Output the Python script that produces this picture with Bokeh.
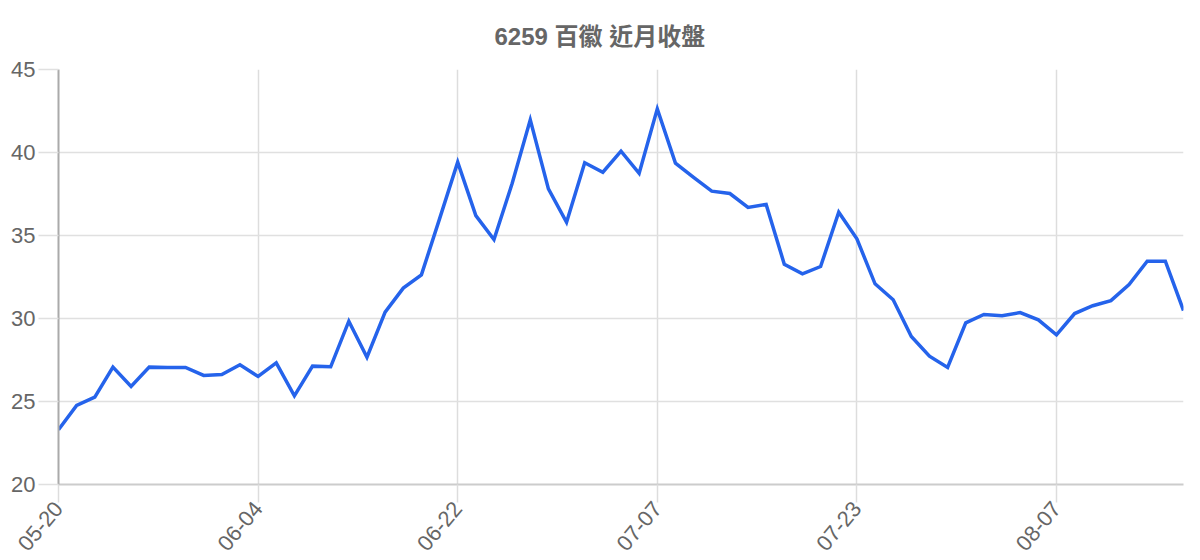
import math
from bokeh.plotting import figure
from bokeh.models import Range1d, FixedTicker, Title, ColumnDataSource
from bokeh.embed import file_html
from bokeh.resources import INLINE

title_text = "6259 百徽 近月收盤"

dates = [
    "05-20", "05-21", "05-22", "05-23", "05-24", "05-27", "05-28", "05-29", "05-30", "05-31",
    "06-03", "06-04", "06-05", "06-06", "06-07", "06-11", "06-12", "06-13", "06-14", "06-17",
    "06-18", "06-19", "06-22", "06-24", "06-25", "06-26", "06-27", "06-28", "07-01", "07-02",
    "07-03", "07-04", "07-05", "07-07", "07-08", "07-09", "07-10", "07-11", "07-12", "07-15",
    "07-16", "07-17", "07-18", "07-19", "07-23", "07-24", "07-25", "07-26", "07-29", "07-30",
    "07-31", "08-01", "08-02", "08-05", "08-06", "08-07", "08-08", "08-09", "08-12", "08-13",
    "08-14", "08-15", "08-16",
]

close = [
    23.30, 24.76, 25.26, 27.07, 25.90, 27.07, 27.05, 27.05, 26.57, 26.63,
    27.21, 26.51, 27.33, 25.34, 27.13, 27.09, 29.84, 27.67, 30.38, 31.83,
    32.63, 36.00, 39.42, 36.20, 34.76, 38.13, 41.97, 37.81, 35.80, 39.38,
    38.81, 40.08, 38.75, 42.63, 39.36, 38.50, 37.67, 37.53, 36.69, 36.87,
    33.27, 32.69, 33.13, 36.40, 34.80, 32.09, 31.13, 28.92, 27.73, 27.05,
    29.74, 30.24, 30.16, 30.36, 29.92, 29.02, 30.30, 30.77, 31.08, 32.05,
    33.45, 33.45, 30.48,
]

label_every = 11
y_ticks = [20, 25, 30, 35, 40, 45]

x_idx = list(range(len(close)))
src = ColumnDataSource(dict(x=x_idx, y=close, d=dates))

FONT = "'Liberation Sans', Arial, sans-serif"
CJK = "'Liberation Sans', 'Noto Sans CJK TC', sans-serif"

W, H = 1192, 560
BL, BR, BT, BB = 58, 9, 69, 76

p = figure(width=W, height=H, output_backend="svg", toolbar_location=None,
           x_range=Range1d(0, len(close) - 1), y_range=Range1d(min(y_ticks), max(y_ticks)),
           min_border_left=BL, min_border_right=BR, min_border_top=BT, min_border_bottom=BB,
           outline_line_color=None, background_fill_color="white", border_fill_color="white")

p.title = None
t = Title(text=title_text, align="left", offset=436, text_font=CJK, text_font_size="24px",
          text_font_style="bold", text_color="#666666", standoff=40, text_line_height=1.0)
p.add_layout(t, "above")

p.line("x", "y", source=src, line_color="#2563eb", line_width=3.5, line_join="miter")

tick_pos = x_idx[::label_every]
p.xaxis.ticker = FixedTicker(ticks=tick_pos)
p.xaxis.major_label_overrides = {i: dates[i] for i in tick_pos}
p.xaxis.major_label_orientation = 50 * math.pi / 180
p.xaxis.major_label_text_font = FONT
p.xaxis.major_label_text_font_size = "22px"
p.xaxis.major_label_text_color = "#666666"
p.xaxis.axis_line_color = "#cccccc"
p.xaxis.axis_line_width = 2
p.xaxis.major_tick_out = 18
p.xaxis.major_tick_in = 0
p.xaxis.major_tick_line_color = "#dddddd"
p.xaxis.major_tick_line_width = 1.5
p.xaxis.minor_tick_line_color = None
p.xaxis.major_label_standoff = 2

p.yaxis.ticker = FixedTicker(ticks=y_ticks)
p.yaxis.major_label_text_font = FONT
p.yaxis.major_label_text_font_size = "22px"
p.yaxis.major_label_text_color = "#666666"
p.yaxis.axis_line_color = "#aaaaaa"
p.yaxis.axis_line_width = 2
p.yaxis.major_tick_out = 20
p.yaxis.major_tick_in = 0
p.yaxis.major_tick_line_color = "#e0e0e0"
p.yaxis.major_tick_line_width = 1.5
p.yaxis.minor_tick_line_color = None
p.yaxis.major_label_standoff = 3

p.xgrid.ticker = FixedTicker(ticks=tick_pos)
p.xgrid.grid_line_color = "#dddddd"
p.xgrid.grid_line_width = 1.5
p.ygrid.ticker = FixedTicker(ticks=y_ticks)
p.ygrid.grid_line_color = "#e0e0e0"
p.ygrid.grid_line_width = 1.5

open("out.html", "w").write(file_html(p, INLINE))
